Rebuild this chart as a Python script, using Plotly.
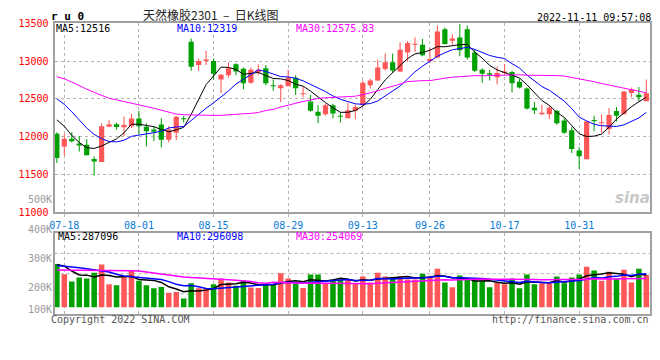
import pandas as pd
import plotly.graph_objects as go

# ---------------- data ----------------
holidays = ["2022-09-12", "2022-10-03", "2022-10-04", "2022-10-05", "2022-10-06", "2022-10-07"]
dates = [d.strftime("%m-%d") for d in pd.bdate_range("2022-07-15", "2022-11-11") if d.strftime("%Y-%m-%d") not in holidays]

opens = [12038, 11872, 11974, 11910, 11893, 11705, 11667, 12132, 12166, 12124,
         12137, 12239, 12132, 12094, 12162, 11961, 12051, 12243, 13256, 12949,
         13000, 13000, 12756, 12812, 12957, 12897, 12714, 12850, 12906, 12675,
         12641, 12667, 12778, 12560, 12466, 12329, 12295, 12414, 12278, 12243,
         12342, 12414, 12679, 12744, 12893, 12983, 12863, 13111, 13214, 13214,
         13000, 13047, 13419, 13269, 13312, 13419, 13111, 12885, 12837, 12786,
         12842, 12855, 12726, 12637, 12384, 12295, 12295, 12342, 12213, 12085,
         11816, 11701, 12222, 12179, 12102, 12338, 12295, 12577, 12555, 12470]
highs = [12060, 12038, 12060, 12008, 11966, 11743, 12179, 12222, 12188, 12265,
         12303, 12342, 12179, 12137, 12243, 12137, 12273, 12278, 13299, 13034,
         13137, 13034, 12829, 12983, 12970, 12914, 12914, 12957, 12949, 12756,
         12692, 12885, 12812, 12662, 12555, 12414, 12436, 12436, 12329, 12444,
         12427, 12744, 12765, 13021, 13098, 13098, 13248, 13265, 13312, 13291,
         13171, 13470, 13444, 13355, 13490, 13470, 13154, 12906, 12885, 12927,
         12961, 12872, 12765, 12650, 12457, 12423, 12414, 12350, 12243, 12124,
         11859, 12209, 12278, 12295, 12380, 12393, 12607, 12650, 12658, 12756]
lows = [11654, 11752, 11923, 11803, 11756, 11487, 11667, 12124, 12094, 12008,
        12115, 12030, 11872, 11944, 11859, 11923, 11957, 12188, 12872, 12872,
        12949, 12756, 12573, 12778, 12812, 12628, 12701, 12812, 12679, 12607,
        12457, 12667, 12551, 12521, 12329, 12179, 12278, 12243, 12188, 12243,
        12231, 12402, 12637, 12735, 12872, 12842, 12855, 12991, 13120, 13064,
        12970, 13043, 13214, 13218, 13064, 13021, 12855, 12714, 12744, 12692,
        12820, 12585, 12637, 12359, 12295, 12282, 12235, 12158, 12038, 11786,
        11572, 11701, 12072, 12051, 12030, 12201, 12295, 12521, 12470, 12470]
closes = [11718, 11974, 11940, 11884, 11756, 11671, 12137, 12166, 12128, 12154,
          12239, 12137, 12072, 12064, 11961, 12094, 12265, 12231, 12923, 13000,
          13021, 12833, 12820, 12906, 12863, 12705, 12885, 12885, 12705, 12667,
          12679, 12778, 12641, 12573, 12342, 12278, 12414, 12308, 12265, 12350,
          12393, 12714, 12744, 12914, 12983, 12876, 13149, 13239, 13222, 13077,
          13026, 13389, 13226, 13299, 13141, 13047, 12872, 12833, 12820, 12842,
          12863, 12705, 12650, 12372, 12350, 12316, 12384, 12179, 12051, 11837,
          11743, 12201, 12205, 12188, 12286, 12278, 12598, 12628, 12521, 12573]
volumes = [383600, 292000, 229000, 263400, 254800, 306300, 377900, 203300, 194700, 272000,
           320700, 234800, 194700, 168900, 180400, 128800, 134600, 77300, 211900, 168900,
           168900, 203300, 254800, 220400, 191800, 237600, 174600, 171800, 211900, 200400,
           300600, 254800, 206100, 171800, 289200, 289200, 211900, 246200, 246200, 246200,
           211900, 272000, 220400, 306300, 272000, 263400, 272000, 246200, 246200, 297700,
           272000, 340700, 220400, 177500, 280600, 254800, 234800, 229000, 177500, 217600,
           203300, 254800, 168900, 289200, 203300, 211900, 211900, 272000, 211900, 263400,
           289200, 357900, 326400, 234800, 315000, 254800, 332100, 220400, 340700, 286300]

# moving-average values before enough history exists inside the window
ma5_lead = [12222, 12137, 12017, 11923]
ma10_lead = [12500, 12427, 12329, 12222, 12115, 12030, 11974, 11936, 11931]
ma30_lead = [12791, 12765, 12722, 12671, 12628, 12585, 12543, 12508, 12487, 12466,
             12444, 12423, 12402, 12376, 12350, 12320, 12299, 12290, 12286, 12286,
             12286, 12282, 12282, 12290, 12303, 12303, 12308, 12320, 12346]
vma5_lead = [378000, 364000, 321000, 286000]
vma10_lead = [369000, 364000, 355000, 349000, 341000, 332000, 326000, 312000, 292000]
vma30_lead = [329000, 329000, 329000, 329000, 329000, 329000, 326000, 326000, 326000, 326000,
              324000, 321000, 312000, 303000, 292000, 283000, 278000, 269000, 263000, 258000,
              255000, 249000, 246000, 243000, 240000, 235000, 229000, 218000, 212000]

tick_labels = ["07-18", "08-01", "08-15", "08-29", "09-13", "09-26", "10-17", "10-31"]
price_ticks = [11000, 11500, 12000, 12500, 13000, 13500]
price_tick_text = ["11000", "11500", "12000", "12500", "13000", "13500"]
vol_labels = ["500K", "400K", "300K", "200K", "100K"]

title_text = "天然橡胶2301\u00a0\u00a0–\u00a0\u00a0日K线图"
stamp_text = "2022-11-11 09:57:08"
ma_texts = ["MA5:12516", "MA10:12319", "MA30:12575.83"]
vma_texts = ["MA5:287096", "MA10:296098", "MA30:254069"]

# ---------------- helpers ----------------
def sma(vals, n, lead):
    out = list(lead)
    for i in range(n - 1, len(vals)):
        out.append(sum(vals[i - n + 1:i + 1]) / n)
    return out

idx = list(range(len(dates)))
tickvals = [dates.index(d) for d in tick_labels]

RED = "#ff5757"
GREEN = "#00a000"
BLUE = "#0000ff"
MAG = "#ff00ff"
MONO = "DejaVu Sans Mono"
W, H = 660, 360

def xp(px):
    return px / W

def yp(py):
    return 1 - py / H

fig = go.Figure()

ccolors = [RED if c >= o else GREEN for o, c in zip(opens, closes)]
# wicks
fig.add_trace(go.Bar(x=idx, base=lows, y=[h - l for h, l in zip(highs, lows)],
                     width=0.14, marker=dict(color=ccolors, line=dict(width=0)),
                     showlegend=False, xaxis="x", yaxis="y"))
# bodies (a doji is drawn as a 1-px line)
fig.add_trace(go.Bar(x=idx, base=[min(o, c) for o, c in zip(opens, closes)],
                     y=[max(abs(c - o), 13) for o, c in zip(opens, closes)],
                     width=0.7, marker=dict(color=ccolors, line=dict(width=0)),
                     showlegend=False, xaxis="x", yaxis="y"))

for vals, col in [(sma(closes, 5, ma5_lead), "black"),
                  (sma(closes, 10, ma10_lead), BLUE),
                  (sma(closes, 30, ma30_lead), MAG)]:
    fig.add_trace(go.Scatter(x=idx, y=vals, mode="lines", line=dict(color=col, width=1),
                             showlegend=False, xaxis="x", yaxis="y"))

fig.add_trace(go.Bar(x=idx, y=volumes, marker=dict(color=ccolors, line=dict(width=0)),
                     width=0.74, showlegend=False, xaxis="x2", yaxis="y2"))

for vals, col in [(sma(volumes, 5, vma5_lead), "black"),
                  (sma(volumes, 10, vma10_lead), BLUE),
                  (sma(volumes, 30, vma30_lead), MAG)]:
    fig.add_trace(go.Scatter(x=idx, y=vals, mode="lines", line=dict(color=col, width=1.5),
                             showlegend=False, xaxis="x2", yaxis="y2"))

xr = [-0.3, 79.5]
grid = dict(showgrid=True, gridcolor="#b4b4b4", gridwidth=1, griddash="dot")
border = dict(showline=True, mirror=True, linecolor="#a0a0a0", linewidth=2)

fig.update_layout(
    width=W, height=H, autosize=False,
    margin=dict(l=0, r=0, t=0, b=0),
    paper_bgcolor="white", plot_bgcolor="white",
    barmode="overlay",
    xaxis=dict(domain=[xp(50), xp(650)], range=xr, anchor="y",
               tickmode="array", tickvals=tickvals, ticktext=tick_labels,
               tickfont=dict(family=MONO, size=10, color="#0a7ad8"),
               ticks="outside", ticklen=3, tickcolor="#b4b4b4",
               zeroline=False, **grid, **border),
    yaxis=dict(domain=[yp(213.3), yp(18.7)], range=[11000, 13500], anchor="x",
               tickmode="array", tickvals=price_ticks, ticktext=price_tick_text,
               tickfont=dict(family=MONO, size=10, color="#ff0000"),
               ticks="outside", ticklen=2, tickcolor="white",
               zeroline=False, **grid, **border),
    xaxis2=dict(domain=[xp(50), xp(650)], range=xr, anchor="y2",
                tickmode="array", tickvals=tickvals, showticklabels=False,
                zeroline=False, **grid, **border),
    yaxis2=dict(domain=[yp(318), yp(234.7)], range=[-60000, 655000], anchor="x2",
                showticklabels=False, showgrid=False, zeroline=False, **border),
    hovermode=False,
)

# horizontal dotted grid in the volume panel (quarters of the panel)
for f in [0.25, 0.5, 0.75]:
    fig.add_shape(type="line", xref="x2 domain", yref="y2 domain", x0=0, x1=1, y0=f, y1=f,
                  line=dict(color="#b4b4b4", width=1, dash="dot"), layer="below")

def note(text, x, y, anchor="left", color="black", size=10, family=MONO, pad=1):
    fig.add_annotation(text=text, xref="paper", yref="paper", x=xp(x), y=yp(y),
                       xanchor=anchor, yanchor="middle", showarrow=False, borderpad=pad,
                       font=dict(family=family, size=size, color=color))

note("<b>r u 0</b>", 45, 11.5, size=11, pad=0)
note(title_text, 138, 10, anchor="left", color="#222222", size=12, family="Noto Sans CJK SC", pad=0)
note(stamp_text, 535, 12.5, pad=0)

for t, x, c in zip(ma_texts, [50, 172, 292], ["black", BLUE, MAG]):
    note(t, x, 24.5, color=c, pad=0)
for t, x, c in zip(vma_texts, [52, 172, 292], ["black", BLUE, MAG]):
    note(t, x, 238.5, color=c, pad=0)

for t, y in zip(vol_labels, [200, 230.5, 261, 291, 313]):
    note(t, 48, y, anchor="right", color="#9a9a9a", pad=0)

note("Copyright 2022 SINA.COM", 45, 323.5, color="#555555", pad=0)
note("http://finance.sina.com.cn", 490, 323.5, color="#555555", pad=0)
note("<b><i>sina</i></b>", 632, 198, anchor="center", color="#c8c8c8", size=15, family="DejaVu Sans", pad=0)

fig.write_html("out.html", config={"displayModeBar": False, "staticPlot": True},
               post_script="document.body.style.margin='0';document.body.style.overflow='hidden';")
